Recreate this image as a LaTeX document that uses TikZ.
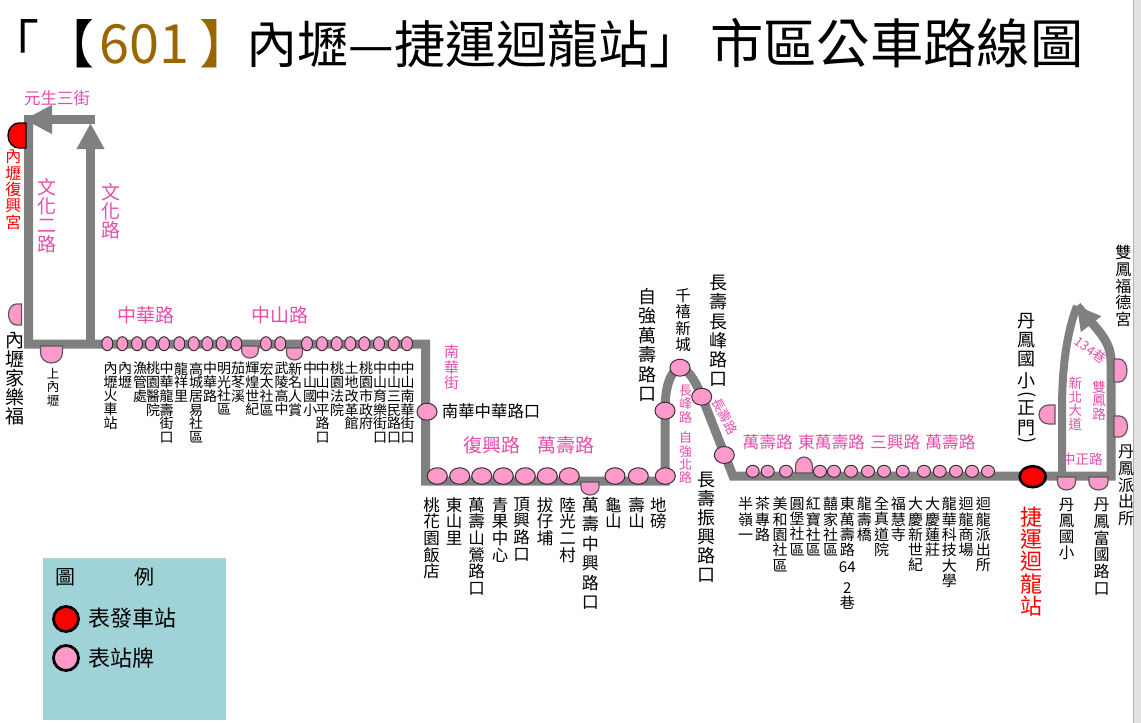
\documentclass[tikz,border=0pt]{standalone}
\usepackage{fontspec}
\setmainfont{Noto Sans CJK TC}
\usetikzlibrary{arrows.meta,shapes.geometric}
\XeTeXlinebreaklocale "zh"
\XeTeXlinebreakskip=0pt
\lineskiplimit=-40pt
\definecolor{routegray}{HTML}{808080}
\definecolor{stoppink}{HTML}{FF99CC}
\definecolor{roadpink}{HTML}{E64DAA}
\definecolor{nobrown}{HTML}{996600}
\definecolor{legendbg}{HTML}{A0D3D8}
\definecolor{stripgray}{HTML}{E2E2E2}
\newcommand{\fsz}[1]{\fontsize{#1}{#1}\selectfont}
\tikzset{
  route/.style={draw=routegray,line width=9pt},
  stopdot/.style={ellipse,draw=black!80,fill=stoppink,line width=1pt,inner sep=0pt},
  halfstop/.style={draw=black!65,fill=stoppink,line width=1.2pt},
  vtext/.style 2 args={font=\fontsize{#1}{#2}\selectfont,text width=24pt,align=center,anchor=north,inner sep=0pt},
  road/.style={font=\fsz{#1},text=roadpink,inner sep=0pt},
  roadv/.style 2 args={vtext={#1}{#2},text=roadpink},
}
\begin{document}
\begin{tikzpicture}[x=1pt,y=-1pt]
    \useasboundingbox (0,0) rectangle (1141,723);
    \draw[fill=stripgray,draw=black!30] (1133,-2) rectangle (1143,725);
    % Title
    \node[anchor=west,inner sep=0pt,font=\fsz{52}] (title) at (13,43)
        {｢\hspace{3.5pt}【\hspace{5pt}\textcolor{nobrown}{{\fsz{54}601}\hspace{10pt}】}\hspace{-5pt}{\fsz{51}內壢—捷運迴龍站」}\hspace{10pt}{\fsz{53.3}市區公車路線圖}};
    % Route points
    \coordinate (topright) at (94.5,119.5);
    \coordinate (topleft) at (24,119.5);
    \coordinate (westup) at (28.5,115);
    \coordinate (westdown) at (28.5,344);
    \coordinate (midfoot) at (90.5,344);
    \coordinate (midtip) at (90.5,123);
    \coordinate (nanhua) at (425.5,344);
    \coordinate (fuxing) at (425.5,481);
    \coordinate (dibang) at (665,481);
    \coordinate (ziqiang) at (665,410);
    \coordinate (qianxi) at (680,367);
    \coordinate (changfeng) at (702,397);
    \coordinate (wanshou) at (733,476);
    \coordinate (danfeng) at (1111,476);
    \coordinate (danbend) at (1111,362);
    \coordinate (xinbei) at (1062,476);
    \coordinate (looptip) at (1077,306);
    % Route
    \draw[route] (westup) -- (westdown) -- (nanhua) -- (fuxing) -- (dibang) -- (ziqiang)
        .. controls (665,390) and (669,372) .. (qianxi)
        .. controls (690,370) and (697,385) .. (changfeng) -- (wanshou) -- (danfeng) -- (danbend)
        .. controls (1111,342) and (1100,332) .. (looptip);
    \draw[route,line width=8pt] (xinbei) -- (1062,410) .. controls (1062,370) and (1066,335) .. (looptip);
    \draw[route,-{Triangle[length=26pt,width=26pt]}] (midfoot) -- (midtip);
    \draw[route,-{Triangle[length=28pt,width=27pt]}] (topright) -- (topleft);
    \draw[route,line width=0pt,-{Triangle[length=23pt,width=26pt,fill=routegray]}] (1091,324) -- (looptip);
    % Half stops
    \foreach \x/\y/\w/\d/\r in {21.5/314.5/10.5/13/-90,51.5/346/11/17/0,250/346/8.3/12/0,294.5/348/8/12/0,
        590/482/9/13/0,804/473/8.5/16/180,1055/414.5/9.5/16/-90,1066.5/477/9/13/0,1098.5/477/9.5/13/0,
        1114/370.5/11.5/13/90,1114/426.5/10.5/13.5/90} {
        \draw[halfstop,shift={(\x,\y)},rotate=\r] (\w,0) -- (\w,0.4*\d) arc[start angle=0,end angle=180,x radius=\w,y radius=0.6*\d] -- (-\w,0) -- cycle;
    }
    \draw[draw=black,fill=red,line width=1.4pt,shift={(26,135.5)},rotate=-90] (12.5,0) -- (12.5,7) arc[start angle=0,end angle=180,x radius=12.5,y radius=11] -- (-12.5,0) -- cycle;
    % Stops
    \foreach \x [count=\i] in {107.3,122.3,137,151,164,179.3,193.7,207.3,221.7,236.3,266,280.3,307,322,336.7,350.3,364.3,379,393.7,407} {
        \node[stopdot,minimum width=11pt,minimum height=14pt] (stopa\i) at (\x,343.7) {};
    }
    \foreach \x [count=\i] in {437.3,459.7,481.7,503.3,525.3,547.3,569.3,615,638.3,665.3} {
        \node[stopdot,minimum width=20pt,minimum height=16.5pt] (stopb\i) at (\x,476) {};
    }
    \foreach \x [count=\i] in {752.7,767.7,786,820,834,851,868,884,902.7,924,939.7,956,972,988} {
        \node[stopdot,minimum width=13pt,minimum height=12pt] (stopc\i) at (\x,471.3) {};
    }
    \foreach \x/\y [count=\i] in {427/411.7,665/410.7,680/367.7,701.7/396.7,724.3/455} {
        \node[stopdot,minimum width=20pt,minimum height=17pt] (stopd\i) at (\x,\y) {};
    }
    \node[ellipse,draw=black,fill=red,line width=2.6pt,inner sep=0pt,minimum width=26pt,minimum height=21pt] (terminal) at (1032.7,476.7) {};
    % Black stop names
    \foreach \x/\t [count=\i] in {110.7/內壢火車站,125/內壢,140/漁管處,153/桃園醫院,166.7/中華龍壽街口,181/龍祥里,196/高城居易社區,210/中華路,224/明光社區,238/茄苳溪,252.3/輝煌世紀,266.7/宏太社區,281.7/武陵高中,295/新名人賞,310/中山國小,322.7/中山中平路口,337/桃園法院,351.7/土地改革館,366/桃園市政府,380/中山育樂街口,394/中山三民路口,407.7/中山南華街口} {
        \node[vtext={14}{13.7}] (namea\i) at (\x,362) {\t};
    }
    \foreach \x/\t [count=\i] in {431.7/桃花園飯店,454/東山里,476.7/萬壽山鶯路口,500/青果中心,521.7/頂興路口,545/拔仔埔,567.7/陸光二村,613.3/龜山,636.7/壽山,658.3/地磅} {
        \node[vtext={16.5}{16.7}] (nameb\i) at (\x,497) {\t};
    }
    \foreach \x/\t [count=\i] in {745.7/半嶺一,762.7/茶專路,780/美和園社區,797/圓堡社區,813.3/紅寶社區,830.7/囍家社區,864.3/龍壽橋,881.7/全真道院,898.3/福慧寺,915.7/大慶新世紀,932.7/大慶蓮莊,949.3/龍華科技大學,966/迴龍商場,983.3/迴龍派出所} {
        \node[vtext={15}{15.3}] (namec\i) at (\x,497) {\t};
    }
    \node[vtext={15}{15.3}] (namec15) at (847.3,497) {東\\萬\\壽\\路\\[2pt]64\\[5pt]2\\巷};
    \foreach \x/\y/\s/\l/\t [count=\i] in {14.7/331.7/19/19/內壢家樂福,53/368/12.5/13.3/上內壢,590.3/497/17/19.4/萬壽中興路口,706/471.7/18/19/長壽振興路口,647.7/288/18/19.5/自強萬壽路口,683/288/15.5/16.5/千禧新城,718/275/18/19.2/長壽長峰路口,1123.3/245/16/16.7/雙鳳福德宮,1126/445/16/16.7/丹鳳派出所,1066.7/498/15.5/16/丹鳳國小,1101.7/498/16/16.7/丹鳳富國路口} {
        \node[vtext={\s}{\l}] (named\i) at (\x,\y) {\t};
    }
    \node[vtext={18}{18.7}] (danzheng) at (1026.7,313.3) {丹\\鳳\\國\\[4pt]小\\[-14.7pt]\rotatebox{-90}{(}\\[2.3pt]正\\[1.3pt]門\\[-15.7pt]\rotatebox{-90}{)}};
    \node[anchor=west,inner sep=0pt,font=\fsz{16.4}] (nanhuaname) at (441.7,411) {南華中華路口};
    % Red stop names
    \node[vtext={16}{16.3},text=red] (fuxingname) at (13.3,150) {內壢復興宮};
    \node[vtext={22}{22.3},text=red] (terminalname) at (1031.7,506.7) {捷運迴龍站};
    % Road names
    \node[road=16.5] (roada) at (57,98) {元生三街};
    \node[road=19] (roadb) at (145.5,315) {中華路};
    \node[road=19] (roadc) at (280,315) {中山路};
    \node[road=19] (roadd) at (491.5,445.7) {復興路};
    \node[road=19] (roade) at (566,445.7) {萬壽路};
    \foreach \x/\t [count=\i] in {767.7/萬壽路,831.5/東萬壽路,895.3/三興路,950.5/萬壽路} {
        \node[road=16.7] (roadf\i) at (\x,441.7) {\t};
    }
    \node[road=13.7] (roadg) at (1082.3,459.3) {中正路};
    \foreach \x/\y/\s/\l/\t [count=\i] in {46.7/178/19/19/文化二路,110.7/183/19/19/文化路,451.7/345/15/15.5/南華街,685.7/385/13/13.3/長峰路,685.7/431.7/13/13.3/自強北路,1075.3/376.7/13.5/13.7/新北大道,1099/380.7/13.5/13.7/雙鳳路} {
        \node[roadv={\s}{\l}] (roadv\i) at (\x,\y) {\t};
    }
    \node[road=13,rotate=-62] (roadr1) at (725,416) {長壽路};
    \node[road=13,rotate=-37] (roadr2) at (1090.7,350) {134巷};
    % Legend
    \fill[legendbg] (43,558) rectangle (226,720);
    \node[font=\fsz{20},inner sep=0pt] (legendtu) at (65,577) {圖};
    \node[font=\fsz{20},inner sep=0pt] (legendli) at (144.5,577) {例};
    \node[circle,draw=black,fill=red,line width=2.8pt,inner sep=0pt,minimum size=25pt] (legendred) at (66,619) {};
    \node[circle,draw=black,fill=stoppink,line width=2.8pt,inner sep=0pt,minimum size=25pt] (legendpink) at (66,658) {};
    \node[anchor=west,font=\fsz{22},inner sep=0pt] (legendredname) at (88,618.5) {表發車站};
    \node[anchor=west,font=\fsz{22},inner sep=0pt] (legendpinkname) at (88,658.5) {表站牌};
\end{tikzpicture}
\end{document}
